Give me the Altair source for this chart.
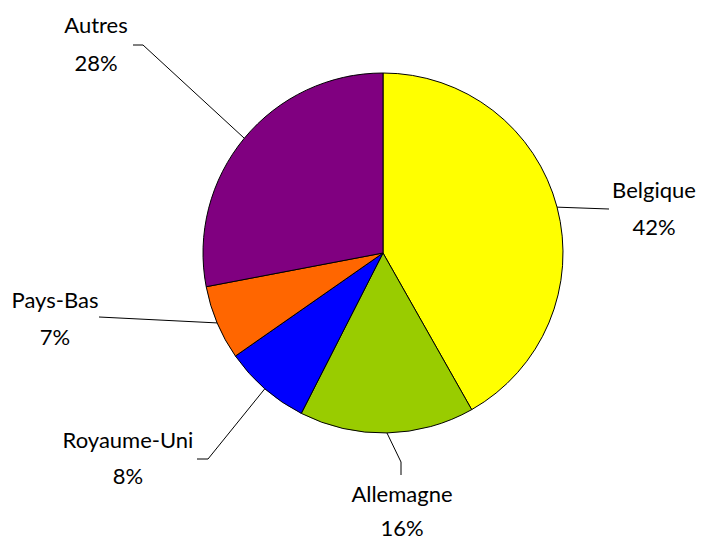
import math
import altair as alt
import pandas as pd

# ---- data ----
pays = ["Belgique", "Allemagne", "Royaume-Uni", "Pays-Bas", "Autres"]
parts = [41.8, 15.7, 7.8, 6.7, 28.0]
couleurs = ["#FFFF00", "#99CC00", "#0000FF", "#FF6600", "#800080"]

# ---- layout (plot-area pixel coords) ----
W, H = 689, 533
CX, CY, R = 375, 245, 180
# label anchor: (centre x, baseline y of name) ; leader path after edge point
label_pos = {
    "Belgique": (646, 190),
    "Allemagne": (394, 494),
    "Royaume-Uni": (120, 440),
    "Pays-Bas": (47, 300),
    "Autres": (88, 25),
}
label_gap = {
    "Belgique": 37,
    "Allemagne": 34,
    "Royaume-Uni": 36,
    "Pays-Bas": 37,
    "Autres": 38,
}
leader = {
    "Belgique": [(601, 201)],
    "Allemagne": [(393, 454), (393, 467)],
    "Royaume-Uni": [(200, 451), (189, 451)],
    "Pays-Bas": [(91, 309)],
    "Autres": [(135, 37), (125, 37)],
}

total = sum(parts)
df = pd.DataFrame({"pays": pays, "part": parts, "ordre": range(len(pays))})

rows_line, rows_txt = [], []
cum = 0.0
for p, v in zip(pays, parts):
    mid = (cum + v / 2) / total * 2 * math.pi
    cum += v
    ex = CX + R * math.sin(mid)
    ey = CY - R * math.cos(mid)
    pts = [(ex, ey)] + leader[p]
    for i, (x, y) in enumerate(pts):
        rows_line.append({"pays": p, "seq": i, "x": x, "y": y})
    lx, ly = label_pos[p]
    rows_txt.append({"t": p, "x": lx, "y": ly})
    rows_txt.append({"t": f"{round(v)}%", "x": lx, "y": ly + label_gap[p]})

lines = pd.DataFrame(rows_line)
txt = pd.DataFrame(rows_txt)

xs = alt.Scale(domain=[0, W])
ys = alt.Scale(domain=[0, H], reverse=True)

pie = alt.Chart(df).mark_arc(outerRadius=R, stroke="black", strokeWidth=1).encode(
    theta=alt.Theta("part:Q", stack=True),
    color=alt.Color("pays:N", scale=alt.Scale(domain=pays, range=couleurs), legend=None),
    order=alt.Order("ordre:Q"),
    x=alt.value(CX),
    y=alt.value(CY),
)

lead = alt.Chart(lines).mark_line(color="black", strokeWidth=1).encode(
    x=alt.X("x:Q", scale=xs, axis=None),
    y=alt.Y("y:Q", scale=ys, axis=None),
    detail="pays:N",
    order="seq:Q",
)

labels = alt.Chart(txt).mark_text(
    font="Lato", fontSize=22, align="center", baseline="alphabetic", color="black"
).encode(
    x=alt.X("x:Q", scale=xs, axis=None),
    y=alt.Y("y:Q", scale=ys, axis=None),
    text="t:N",
)

chart = alt.layer(pie, lead, labels).properties(
    width=W, height=H, autosize="none", padding=0
).configure_view(stroke=None)

chart.save("out.html", embed_options={"renderer": "svg", "actions": False})
